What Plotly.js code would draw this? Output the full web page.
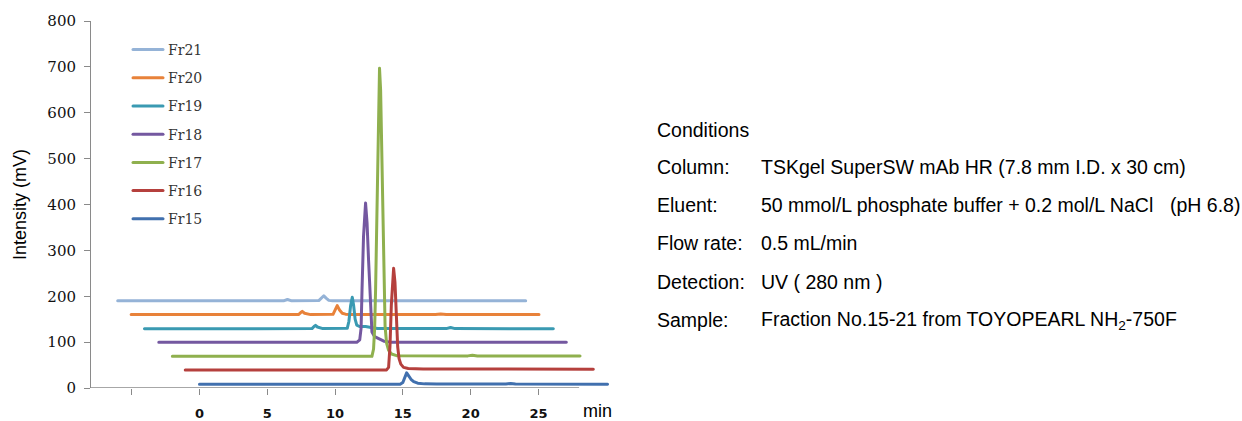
<!DOCTYPE html>
<html>
<head>
<meta charset="utf-8">
<script src="https://cdn.plot.ly/plotly-3.0.1.min.js"></script>
<style>
  html, body { margin: 0; padding: 0; background: #fff; }
  #chart { width: 1242px; height: 421px; }
  #chart .js-line { stroke-linejoin: round !important; stroke-linecap: round !important; }
</style>
</head>
<body>
<div id="chart"></div>
<script>
// ---- Data (x = displayed minutes, y = displayed mV) ----
var seriesNames = ['Fr21', 'Fr20', 'Fr19', 'Fr18', 'Fr17', 'Fr16', 'Fr15'];

var fr21X = [-6.03, 6.2, 6.49, 6.8, 8.8, 9.0, 9.17, 9.34, 9.54, 9.82, 24.06];
var fr21Y = [190, 190, 193, 190, 190.5, 196, 201, 196, 191, 190, 190];

var fr20X = [-5.04, 7.3, 7.45, 7.58, 7.75, 7.95, 8.2, 9.85, 10.0, 10.16, 10.33, 10.53, 10.77, 11.14, 17.4, 17.79, 18.2, 25.04];
var fr20Y = [160, 160, 164, 167, 163, 161, 160, 160.5, 170, 179.5, 170, 163, 161, 160, 160, 161.5, 160, 160];

var fr19X = [-4.06, 8.3, 8.45, 8.56, 8.7, 8.9, 9.1, 10.9, 11.02, 11.15, 11.27, 11.37, 11.48, 11.6, 11.8, 12.25, 12.65, 12.86, 13.15, 18.2, 18.52, 18.85, 26.1];
var fr19Y = [129, 129.5, 134, 136.5, 133, 130.5, 129.5, 130, 145, 180, 198, 180, 150, 137, 134, 134, 133, 131, 129.5, 129.5, 132, 129.5, 129];

var fr18X = [-3.0, 11.6, 11.82, 11.92, 11.99, 12.1, 12.25, 12.36, 12.47, 12.57, 12.64, 12.72, 12.92, 13.21, 13.6, 14.1, 20.2, 20.5, 20.8, 27.06];
var fr18Y = [99.5, 99.5, 105, 130, 214, 330, 403, 360, 280, 214, 150, 122, 112, 107, 102, 100, 100, 101.5, 100, 99.5];

var fr17X = [-2.0, 12.72, 12.84, 12.92, 12.99, 13.11, 13.21, 13.28, 13.36, 13.48, 13.62, 13.69, 13.8, 13.95, 14.17, 14.54, 19.8, 20.13, 20.5, 28.07];
var fr17Y = [69, 69, 85, 130, 214, 447, 650, 697, 650, 447, 214, 135, 98, 82, 74, 70.5, 70, 71.5, 70, 69.5];

var fr16X = [-1.05, 13.8, 13.95, 14.05, 14.15, 14.25, 14.32, 14.42, 14.52, 14.62, 14.72, 14.85, 15.05, 15.4, 16.5, 21.6, 21.97, 22.3, 29.05];
var fr16Y = [39.5, 39.5, 45, 90, 180, 250, 261, 230, 150, 90, 64, 52, 45, 42.5, 41.5, 41.5, 43, 41.5, 41];

var fr15X = [0, 14.8, 15.0, 15.15, 15.28, 15.42, 15.6, 15.8, 16.1, 16.6, 17.5, 22.6, 22.95, 23.3, 30.1];
var fr15Y = [8, 8, 12, 25, 33, 27, 19, 14, 10.5, 9, 8.5, 8.5, 10, 8.5, 8];

var xTickVals = [0, 5, 10, 15, 20, 25];
var xTickText = ['0', '5', '10', '15', '20', '25'];
var xMinorTickVals = [-5];
var yTickVals = [0, 100, 200, 300, 400, 500, 600, 700, 800];

var condLabels = ['Column:', 'Eluent:', 'Flow rate:', 'Detection:', 'Sample:'];
var condValues = [
  'TSKgel SuperSW mAb HR (7.8 mm I.D. x 30 cm)',
  '50 mmol/L phosphate buffer + 0.2 mol/L NaCl',
  '0.5 mL/min',
  'UV ( 280 nm )',
  'Fraction No.15-21 from TOYOPEARL NH<sub>2</sub>-750F'
];

// ---- Styling ----
var xs = [fr21X, fr20X, fr19X, fr18X, fr17X, fr16X, fr15X];
var ys = [fr21Y, fr20Y, fr19Y, fr18Y, fr17Y, fr16Y, fr15Y];
var colors = ['#95B3D7', '#E8823A', '#3A9AB2', '#7458A0', '#8FB04E', '#B5403D', '#4170AE'];

var traces = seriesNames.map(function (n, i) {
  return {
    type: 'scatter', mode: 'lines', name: n, legendgroup: n,
    x: xs[i], y: ys[i],
    line: { color: colors[i], width: 3 },
    hoverinfo: 'skip'
  };
});

var M = { l: 91, r: 629, t: 21, b: 33 };
var W = 1242, H = 421;
var plotW = W - M.l - M.r, plotH = H - M.t - M.b;
function px(xp) { return (xp - M.l) / plotW; }
function py(yp) { return (H - M.b - yp) / plotH; }

var txtFont = { family: 'Liberation Sans, Arial, sans-serif', size: 19.5, color: '#000' };
var annotations = [
  { text: 'Intensity (mV)', textangle: -90, xref: 'paper', yref: 'paper',
    x: px(20), y: py(205), xanchor: 'center', yanchor: 'middle', showarrow: false,
    font: { family: 'Liberation Sans, Arial, sans-serif', size: 18, color: '#000' } },
  { text: 'min', xref: 'paper', yref: 'paper', x: px(581), y: py(411),
    xanchor: 'left', yanchor: 'middle', showarrow: false,
    font: { family: 'Liberation Sans, Arial, sans-serif', size: 18, color: '#000' } },
  { text: 'Conditions', xref: 'paper', yref: 'paper', x: px(655), y: py(130),
    xanchor: 'left', yanchor: 'middle', showarrow: false, font: txtFont },
  { text: '(pH 6.8)', xref: 'paper', yref: 'paper', x: px(1168), y: py(205),
    xanchor: 'left', yanchor: 'middle', showarrow: false, font: txtFont }
];
var rowY = [167, 205, 243, 282, 320];
condLabels.forEach(function (lab, i) {
  annotations.push({ text: lab, xref: 'paper', yref: 'paper', x: px(655), y: py(rowY[i]),
    xanchor: 'left', yanchor: 'middle', showarrow: false, font: txtFont });
  annotations.push({ text: condValues[i], xref: 'paper', yref: 'paper', x: px(759), y: py(rowY[i]),
    xanchor: 'left', yanchor: 'middle', showarrow: false, font: txtFont });
});

var layout = {
  width: W, height: H,
  margin: M,
  paper_bgcolor: '#fff', plot_bgcolor: '#fff',
  showlegend: true,
  legend: {
    x: px(128), y: py(34), xanchor: 'left', yanchor: 'top',
    bgcolor: 'rgba(0,0,0,0)', borderwidth: 0,
    font: { family: 'DejaVu Serif, serif', size: 14, color: '#333' },
    traceorder: 'grouped', tracegroupgap: 7, itemwidth: 30
  },
  xaxis: {
    range: [-8, 30.5], showgrid: false, zeroline: false, showline: false,
    tickmode: 'array', tickvals: xTickVals, ticktext: xTickText,
    ticks: 'outside', ticklen: 6, tickcolor: '#8a8a8a', tickwidth: 1,
    ticklabelstandoff: 7,
    minor: { tickmode: 'array', tickvals: xMinorTickVals, ticks: 'outside', ticklen: 6,
             tickcolor: '#8a8a8a', tickwidth: 1, showgrid: false },
    tickfont: { family: 'DejaVu Sans, sans-serif', size: 13, color: '#111', weight: 'bold' }
  },
  yaxis: {
    range: [0, 800], showgrid: false, zeroline: false, showline: true,
    linecolor: '#8a8a8a', linewidth: 1,
    tickmode: 'array', tickvals: yTickVals,
    ticks: 'outside', ticklen: 6, tickcolor: '#8a8a8a', tickwidth: 1,
    ticklabelstandoff: 5,
    tickfont: { family: 'DejaVu Serif, serif', size: 15, color: '#111' }
  },
  shapes: [
    { type: 'line', xref: 'x', yref: 'y', x0: -8, x1: 28, y0: 0, y1: 0,
      line: { color: '#8a8a8a', width: 1.5 }, layer: 'below' }
  ],
  annotations: annotations
};

Plotly.newPlot('chart', traces, layout, { staticPlot: true, displayModeBar: false });
</script>
</body>
</html>
